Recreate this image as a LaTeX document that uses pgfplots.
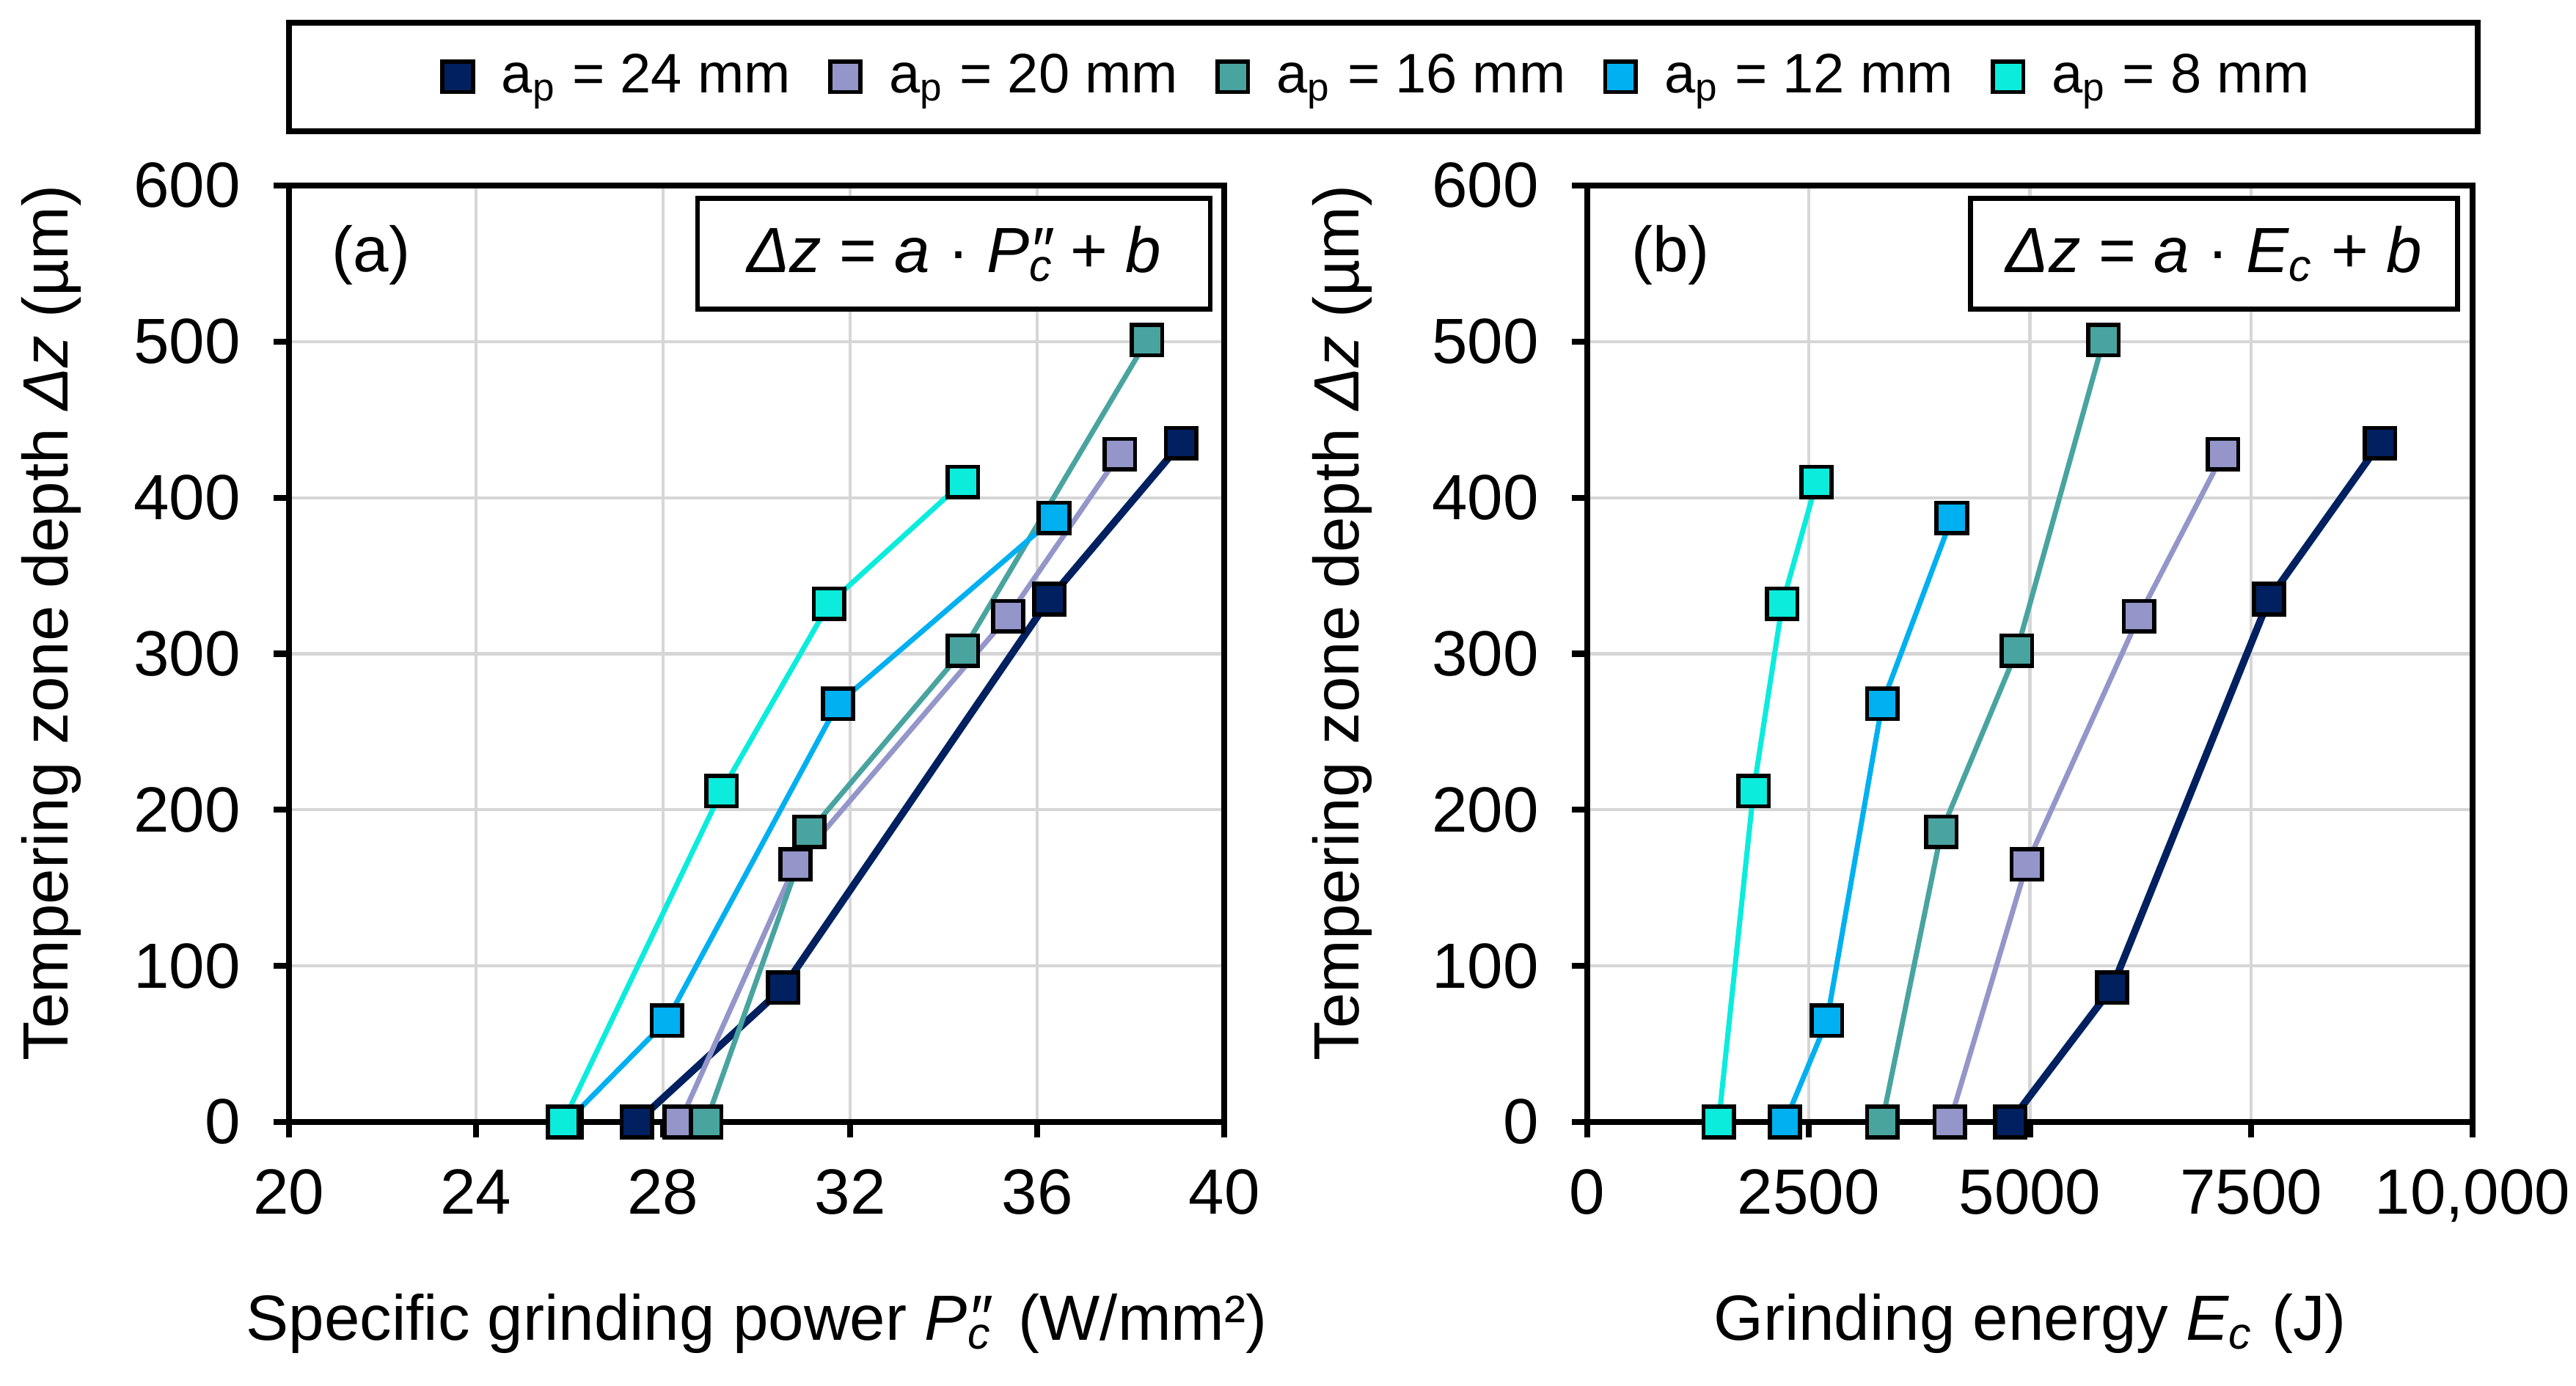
\documentclass[border=0pt]{standalone}
\usepackage{fontspec}
\setmainfont{Liberation Sans}
\usepackage{pgfplots}
\pgfplotsset{compat=1.18}
\definecolor{cnavy}{HTML}{002060}
\definecolor{clav}{HTML}{9496C9}
\definecolor{cteal}{HTML}{49A4A0}
\definecolor{cblue}{HTML}{00B0F0}
\definecolor{ccyan}{HTML}{0BECDC}
\definecolor{gridgray}{HTML}{D6D6D6}
\newcommand{\Pc}{{\itshape P\rlap{\textsubscript{c}}″}}
\newcommand{\fnt}{\fontsize{12.4}{14.5}\selectfont}
\pgfplotsset{
  myax/.style={
    scale only axis, anchor=south west,
    height=6.385cm, ymin=0, ymax=600, ytick={0,100,...,600},
    grid=major, grid style={line width=0.6pt, gridgray},
    axis line style={line width=1.15pt, black},
    tick align=outside, xtick pos=bottom, ytick pos=left,
    major tick length=0.107cm,
    tick style={line width=1.15pt, black},
    clip=false, scaled x ticks=false, scaled y ticks=false,
    /pgf/number format/assume math mode=true,
    tick label style={font=\fnt},
    label style={font=\fnt},
    yticklabel style={xshift=-0.1cm},
    xticklabel style={yshift=-0.09cm},
    every axis plot/.append style={line width=1.0pt, mark=square*, mark size=2.95pt},
    legend image code/.code={\draw[##1] plot[only marks] coordinates {(0cm,0cm)};},
  },
  s24/.style={cnavy, line width=1.4pt, mark options={fill=cnavy, draw=black, line width=0.8pt}},
  s20/.style={clav, mark options={fill=clav, draw=black, line width=0.8pt}},
  s16/.style={cteal, mark options={fill=cteal, draw=black, line width=0.8pt}},
  s12/.style={cblue, mark options={fill=cblue, draw=black, line width=0.8pt}},
  s8/.style={ccyan, mark options={fill=ccyan, draw=black, line width=0.8pt}},
}
\begin{document}
\begin{tikzpicture}
\useasboundingbox (0,0) rectangle (17.56,9.45);
\begin{axis}[myax,
  at={(1.97cm,1.80cm)}, width=6.375cm,
  xmin=20, xmax=40, xtick={20,24,...,40},
  xlabel={Specific grinding power \Pc\,\ (W/mm²)},
  ylabel={Tempering zone depth {\itshape Δz} (µm)},
  xlabel style={at={(axis description cs:0.5,-0.2326)}, anchor=base},
  ylabel style={at={(axis description cs:-0.2361,0.533)}, anchor=base},
  legend style={at={(1.168,1.116)}, anchor=center, draw=none, fill=none,
    legend columns=5, font=\fontsize{10.8}{13}\selectfont,
    /tikz/every odd column/.append style={column sep=0.125cm},
    /tikz/every even column/.append style={column sep=0.20cm}},
]
\addplot[s24] coordinates {(27.44,0) (30.57,86) (36.26,335) (39.08,435)};
\addlegendentry{a\textsubscript{p} = 24 mm}
\addplot[s20] coordinates {(28.36,0) (30.83,165) (35.38,324) (37.77,428)};
\addlegendentry{a\textsubscript{p} = 20 mm}
\addplot[s16] coordinates {(28.92,0) (31.13,186) (34.41,302) (38.35,501)};
\addlegendentry{a\textsubscript{p} = 16 mm}
\addplot[s12] coordinates {(25.94,0) (28.08,65) (31.74,268) (36.36,387)};
\addlegendentry{a\textsubscript{p} = 12 mm}
\addplot[s8] coordinates {(25.86,0) (29.25,212) (31.55,332) (34.41,410)};
\addlegendentry{a\textsubscript{p} = 8 mm}
\node[font=\fnt] at (axis description cs:0.088,0.926) {(a)};
\node[draw, line width=0.95pt, fill=white, minimum width=3.495cm, minimum height=0.755cm, font=\fnt]
  at (axis description cs:0.711,0.927) {{\itshape Δz} = {\itshape a} · \Pc\ + {\itshape b}};
\end{axis}
\begin{axis}[myax,
  at={(10.82cm,1.80cm)}, width=6.035cm,
  xmin=0, xmax=10000, xtick={0,2500,5000,7500,10000},
  xticklabels={0,2500,5000,7500,{10,000}},
  xlabel={Grinding energy {\itshape E\textsubscript{c}} (J)},
  ylabel={Tempering zone depth {\itshape Δz} (µm)},
  xlabel style={at={(axis description cs:0.5,-0.2326)}, anchor=base},
  ylabel style={at={(axis description cs:-0.2585,0.533)}, anchor=base},
]
\addplot[s24] coordinates {(4777,0) (5927,86) (7700,335) (8954,435)};
\addplot[s20] coordinates {(4095,0) (4963,165) (6231,324) (7181,428)};
\addplot[s16] coordinates {(3331,0) (3999,186) (4852,302) (5831,501)};
\addplot[s12] coordinates {(2233,0) (2708,65) (3331,268) (4117,387)};
\addplot[s8] coordinates {(1484,0) (1877,212) (2203,332) (2589,410)};
\node[font=\fnt] at (axis description cs:0.094,0.926) {(b)};
\node[draw, line width=0.95pt, fill=white, minimum width=3.32cm, minimum height=0.755cm, font=\fnt]
  at (axis description cs:0.708,0.927) {{\itshape Δz} = {\itshape a} · {\itshape E\textsubscript{c}} + {\itshape b}};
\end{axis}
\draw[line width=1.15pt] (1.97,8.555) rectangle (16.89,9.295);
\end{tikzpicture}
\end{document}
